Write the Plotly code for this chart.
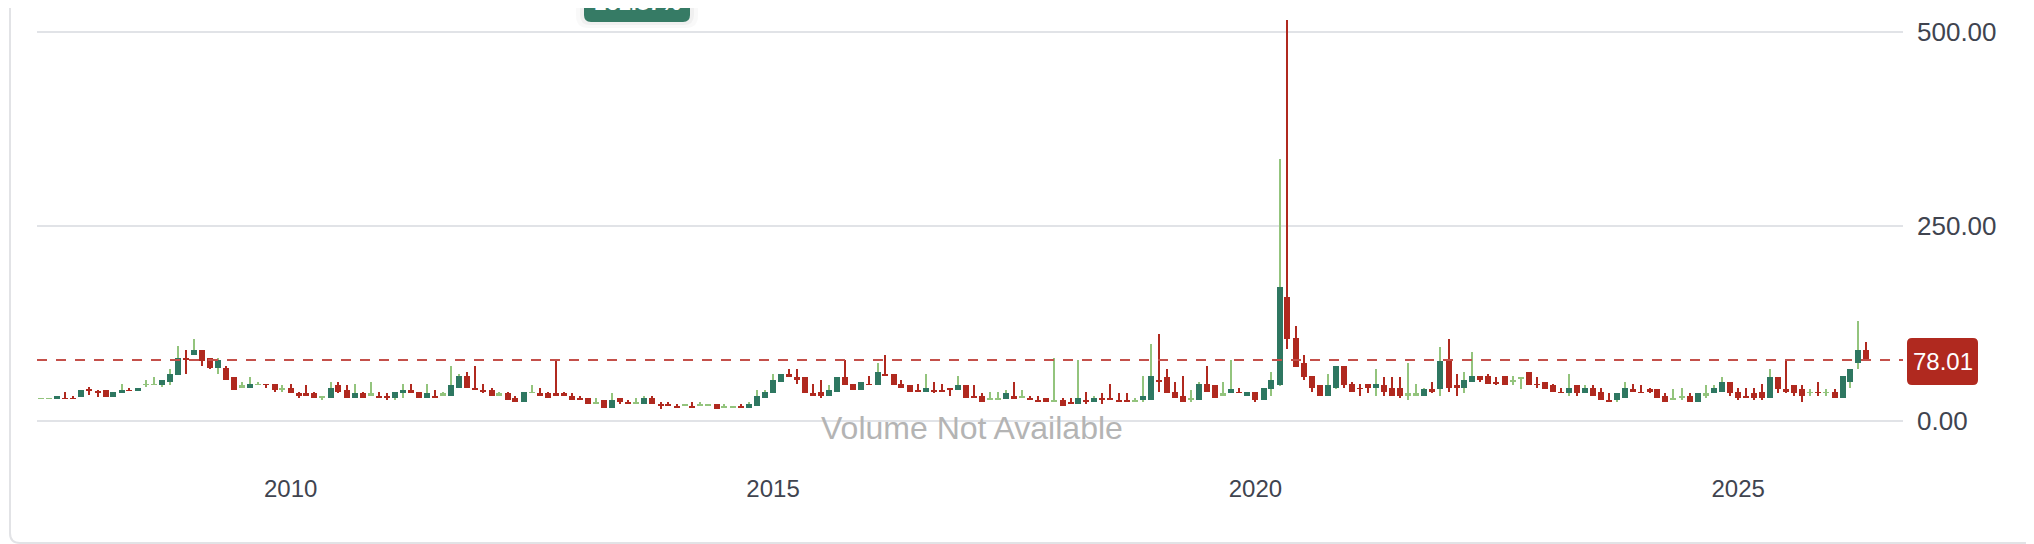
import plotly.graph_objects as go
import pandas as pd

# ---------------- data (monthly candles, Jun 2007 .. May 2026) ----------------
months = pd.date_range("2007-06-01", periods=228, freq="MS")

opens = [
    27.2, 27.2, 27.9, 29.6, 29.6, 30.0, 40.8, 38.2, 39.9, 30.5,
    35.6, 39.9, 37.8, 45.9, 45.9, 45.5, 50.2, 58.4, 81.1, 84.1,
    91.4, 81.1, 68.2, 68.2, 55.4, 42.5, 42.5, 45.1, 47.6, 47.6,
    39.9, 42.5, 34.8, 34.8, 34.8, 29.6, 29.6, 45.1, 39.9, 29.6,
    34.8, 32.2, 32.2, 32.2, 29.6, 34.8, 39.9, 37.3, 29.6, 32.2,
    32.2, 32.2, 42.5, 57.9, 42.5, 39.9, 39.9, 32.2, 34.8, 29.6,
    24.4, 34.8, 34.8, 34.8, 34.8, 34.8, 32.2, 29.6, 29.6, 21.9,
    27.0, 16.7, 29.6, 24.4, 21.9, 21.9, 29.6, 21.9, 21.9, 19.3,
    19.3, 19.3, 19.3, 19.3, 21.9, 16.7, 16.7, 19.3, 16.7, 19.3,
    29.6, 34.8, 50.2, 60.5, 55.4, 55.4, 34.8, 37.3, 32.2, 37.3,
    55.4, 47.6, 39.9, 47.6, 45.1, 60.5, 60.5, 47.6, 45.1, 39.9,
    37.3, 39.9, 39.9, 42.5, 39.9, 45.1, 32.2, 32.2, 27.0, 27.0,
    27.1, 32.2, 29.6, 29.6, 27.0, 29.6, 24.4, 27.0, 24.4, 21.9,
    27.0, 24.4, 29.6, 29.6, 27.0, 27.0, 24.4, 27.0, 27.0, 52.8,
    55.4, 37.3, 32.2, 27.0, 27.0, 47.6, 45.1, 32.2, 34.8, 37.3,
    32.2, 37.3, 27.0, 40.0, 45.5, 158.5, 106.5, 73.4, 57.9, 45.1,
    32.2, 42.5, 70.8, 47.6, 42.5, 47.6, 42.5, 45.1, 42.5, 42.5,
    32.2, 32.2, 32.2, 40.0, 40.0, 76.0, 45.1, 42.5, 50.2, 57.9,
    57.9, 50.2, 57.1, 50.2, 54.0, 63.1, 47.6, 50.2, 45.1, 37.3,
    34.8, 45.1, 34.8, 42.5, 37.3, 27.0, 27.0, 29.6, 40.0, 37.3,
    40.0, 40.0, 32.2, 27.0, 29.6, 32.2, 24.4, 32.2, 34.8, 37.3,
    50.2, 37.3, 32.2, 34.8, 37.3, 29.6, 55.4, 40.0, 45.1, 40.0,
    34.8, 37.3, 34.8, 37.3, 29.6, 50.2, 73.4, 91.4,
]
highs = [
    29.6, 29.6, 32.2, 37.3, 32.2, 39.9, 42.9, 39.9, 39.9, 37.3,
    47.6, 42.5, 42.5, 52.8, 55.4, 52.8, 65.7, 96.5, 91.4, 104.3,
    91.4, 81.1, 81.1, 70.8, 55.4, 50.2, 55.4, 50.2, 47.6, 47.6,
    45.1, 47.6, 37.3, 45.1, 37.3, 32.2, 50.2, 50.2, 45.1, 47.6,
    37.3, 50.2, 37.3, 34.8, 37.3, 47.6, 47.6, 37.3, 47.6, 39.9,
    37.3, 70.8, 60.5, 63.1, 70.8, 47.6, 42.5, 37.3, 37.3, 32.2,
    37.3, 45.1, 42.5, 37.3, 76.0, 37.3, 34.8, 32.2, 29.6, 29.6,
    27.0, 34.8, 29.6, 27.0, 29.6, 32.2, 32.2, 24.4, 24.4, 21.9,
    21.9, 24.4, 24.4, 21.9, 21.9, 21.9, 19.3, 21.9, 24.4, 39.9,
    39.9, 60.5, 60.5, 65.7, 65.7, 55.4, 47.6, 52.8, 45.1, 55.4,
    77.7, 47.6, 50.2, 57.9, 73.4, 83.7, 60.5, 52.8, 45.1, 47.6,
    60.5, 50.2, 47.6, 42.5, 57.9, 45.1, 45.1, 34.8, 37.3, 37.3,
    39.9, 50.2, 39.9, 32.2, 32.2, 29.6, 81.1, 29.6, 29.6, 78.5,
    37.3, 32.2, 34.8, 47.6, 34.8, 34.8, 29.6, 57.9, 99.1, 112.0,
    65.7, 50.2, 57.9, 39.9, 50.2, 70.8, 45.1, 50.2, 78.5, 42.5,
    37.3, 37.3, 42.5, 63.1, 336.0, 516.0, 122.0, 83.7, 57.9, 45.1,
    60.5, 70.8, 70.8, 50.2, 47.6, 47.6, 65.7, 55.4, 55.4, 55.4,
    73.4, 47.6, 42.5, 50.2, 94.0, 104.3, 60.5, 63.1, 88.8, 57.9,
    60.5, 55.4, 57.9, 57.9, 56.5, 63.1, 55.4, 50.2, 47.6, 42.5,
    60.5, 45.1, 45.1, 45.1, 42.5, 34.8, 34.8, 50.2, 47.6, 45.1,
    42.5, 40.0, 34.8, 40.0, 42.5, 34.8, 34.8, 45.1, 45.1, 55.4,
    50.2, 42.5, 42.5, 42.5, 47.6, 65.7, 55.4, 78.5, 45.1, 45.1,
    40.0, 50.2, 40.0, 40.0, 57.9, 65.7, 127.5, 101.7,
]
lows = [
    27.2, 27.2, 27.9, 27.9, 27.9, 30.0, 32.6, 30.5, 30.5, 30.5,
    35.6, 38.2, 37.8, 42.9, 45.9, 42.9, 45.5, 58.4, 60.5, 84.1,
    70.8, 65.7, 60.5, 52.8, 39.9, 42.5, 42.5, 45.1, 42.5, 37.3,
    37.3, 35.6, 29.6, 32.2, 29.6, 27.0, 29.6, 34.8, 29.6, 29.6,
    29.6, 32.2, 29.6, 27.0, 27.0, 29.6, 34.8, 29.6, 29.6, 29.6,
    32.2, 32.2, 42.5, 42.5, 39.9, 34.8, 32.2, 32.2, 27.0, 24.4,
    24.4, 34.8, 32.2, 29.6, 32.2, 32.2, 27.0, 27.0, 21.9, 21.9,
    16.7, 16.7, 21.9, 21.9, 21.9, 21.9, 21.9, 14.2, 19.3, 16.7,
    19.3, 16.7, 19.3, 19.3, 14.2, 16.7, 16.7, 16.7, 16.7, 19.3,
    29.6, 34.8, 50.2, 55.4, 47.6, 34.8, 32.2, 29.6, 32.2, 37.3,
    45.1, 39.9, 39.9, 45.1, 45.1, 57.9, 45.1, 42.5, 37.3, 37.3,
    37.3, 34.8, 37.3, 32.2, 39.9, 29.6, 29.6, 24.4, 27.0, 27.0,
    27.1, 27.1, 29.6, 27.0, 24.4, 24.4, 24.4, 19.3, 21.9, 21.9,
    21.9, 24.4, 21.9, 27.0, 24.4, 24.4, 24.4, 24.4, 27.0, 37.3,
    34.8, 29.6, 24.4, 24.4, 27.0, 37.3, 29.6, 32.2, 34.8, 34.8,
    32.2, 24.4, 27.0, 32.2, 45.0, 92.0, 68.5, 52.8, 37.3, 32.2,
    32.2, 40.0, 42.5, 37.3, 32.2, 34.8, 32.2, 32.2, 32.2, 29.6,
    27.0, 32.2, 32.2, 34.8, 32.2, 37.3, 32.2, 34.8, 50.2, 50.2,
    47.6, 45.1, 45.9, 45.1, 40.0, 45.1, 42.5, 40.0, 37.3, 34.8,
    32.2, 32.2, 34.8, 32.2, 27.0, 24.4, 24.4, 29.6, 37.3, 34.8,
    34.8, 29.6, 24.4, 27.0, 27.0, 24.4, 24.4, 29.6, 34.8, 37.3,
    32.2, 27.0, 29.6, 27.0, 27.0, 29.6, 34.8, 34.8, 32.2, 24.4,
    32.2, 32.2, 32.2, 29.6, 29.6, 42.5, 65.7, 78.01,
]
closes = [
    29.6, 29.6, 32.2, 27.9, 27.9, 39.9, 37.8, 35.6, 30.5, 37.3,
    39.9, 38.2, 42.5, 47.6, 47.6, 52.8, 60.5, 81.1, 78.5, 91.4,
    77.2, 68.2, 78.5, 52.8, 39.9, 45.1, 47.6, 47.6, 45.1, 39.9,
    42.5, 35.6, 32.2, 32.2, 29.6, 32.2, 42.5, 37.3, 29.6, 34.8,
    29.6, 34.8, 29.6, 29.6, 37.3, 39.9, 34.8, 29.6, 34.8, 29.6,
    34.8, 45.1, 57.9, 42.5, 39.9, 37.3, 32.2, 34.8, 27.0, 24.4,
    37.3, 37.3, 32.2, 29.6, 32.2, 32.2, 27.0, 27.0, 21.9, 24.4,
    16.7, 27.0, 24.4, 21.9, 24.4, 29.6, 21.9, 19.3, 19.3, 16.7,
    21.9, 16.7, 21.9, 21.9, 14.2, 19.3, 19.3, 16.7, 21.9, 32.2,
    37.3, 52.8, 60.5, 55.4, 52.8, 34.8, 32.2, 32.2, 39.9, 55.4,
    45.1, 39.9, 50.2, 45.1, 63.1, 57.9, 45.1, 42.5, 37.3, 37.3,
    42.5, 37.3, 37.3, 39.9, 45.1, 29.6, 29.6, 24.4, 29.6, 29.6,
    34.8, 27.1, 32.2, 27.0, 24.4, 24.4, 27.0, 19.3, 21.9, 29.6,
    24.4, 29.6, 27.0, 27.0, 24.4, 24.4, 27.0, 32.2, 57.9, 50.2,
    34.8, 29.6, 24.4, 29.6, 47.6, 37.3, 29.6, 34.8, 40.0, 34.8,
    37.3, 27.0, 42.5, 52.8, 171.5, 104.3, 68.5, 55.4, 42.5, 32.2,
    45.1, 70.8, 45.1, 37.3, 40.0, 42.5, 47.6, 37.3, 32.2, 32.2,
    34.8, 34.8, 40.0, 37.3, 76.0, 42.5, 42.5, 52.8, 57.9, 52.8,
    47.6, 47.6, 45.9, 52.8, 56.5, 45.1, 45.1, 40.0, 37.3, 34.8,
    42.5, 34.8, 42.5, 32.2, 27.0, 24.4, 34.8, 42.5, 37.3, 34.8,
    37.3, 29.6, 24.4, 29.6, 32.2, 24.4, 34.8, 34.8, 42.5, 50.2,
    34.8, 29.6, 29.6, 29.6, 29.6, 55.4, 40.0, 37.3, 34.8, 32.2,
    37.3, 34.8, 37.3, 29.6, 57.9, 65.7, 91.4, 78.01,
]

year_ticks = ["2010-01-01", "2015-01-01", "2020-01-01", "2025-01-01"]
year_labels = ["2010", "2015", "2020", "2025"]
price_ticks = [0, 250, 500]
price_labels = ["0.00", "250.00", "500.00"]
badge_text = "161.87%"
volume_note = "Volume Not Available"

# ---------------- layout geometry ----------------
W, H = 2034, 544
ML, MR, MT, MB = 29, 139, 0, 92
PW = W - ML - MR
PH = H - MT - MB
X_RANGE = ["2007-05-17", "2026-09-17"]
Y_RANGE = [-50.8, 530.9]


def pxx(px):
    return (px - ML) / PW


def pxy(py):
    return (MT + PH - py) / PH


def rrect(x0, y0, x1, y1, r):
    return (f"M {pxx(x0 + r)},{pxy(y0)} L {pxx(x1 - r)},{pxy(y0)} "
            f"Q {pxx(x1)},{pxy(y0)} {pxx(x1)},{pxy(y0 + r)} "
            f"L {pxx(x1)},{pxy(y1 - r)} Q {pxx(x1)},{pxy(y1)} {pxx(x1 - r)},{pxy(y1)} "
            f"L {pxx(x0 + r)},{pxy(y1)} Q {pxx(x0)},{pxy(y1)} {pxx(x0)},{pxy(y1 - r)} "
            f"L {pxx(x0)},{pxy(y0 + r)} Q {pxx(x0)},{pxy(y0)} {pxx(x0 + r)},{pxy(y0)} Z")


UP_DARK = "#2e7761"
UP_LIGHT = "#93c47d"
DOWN = "#b0291f"
TEXT = "#40444f"
FONT = "Liberation Sans, Arial, sans-serif"

span_ms = (pd.Timestamp(X_RANGE[1]) - pd.Timestamp(X_RANGE[0])).total_seconds() * 1000
ms_per_px = span_ms / PW
body_w = 6 * ms_per_px
wick_w = 2 * ms_per_px

is_up = [c >= o for o, c in zip(opens, closes)]
body_base = [min(o, c) for o, c in zip(opens, closes)]
body_h = [abs(c - o) for o, c in zip(opens, closes)]
body_col = [(UP_DARK if (c - o) >= 3 else UP_LIGHT) if u else DOWN
            for o, c, u in zip(opens, closes, is_up)]
wick_col = [UP_LIGHT if u else DOWN for u in is_up]
wick_h = [h - l for h, l in zip(highs, lows)]

fig = go.Figure()
fig.add_trace(go.Bar(x=months, y=wick_h, base=lows, width=[wick_w] * len(months),
                     marker=dict(color=wick_col, line=dict(width=0)),
                     hoverinfo="skip", showlegend=False))
fig.add_trace(go.Bar(x=months, y=body_h, base=body_base, width=[body_w] * len(months),
                     marker=dict(color=body_col, line=dict(width=0)),
                     hoverinfo="skip", showlegend=False))

last_price = closes[-1]
# pixel row of the last price (for its label box)
k = PH / (Y_RANGE[1] - Y_RANGE[0])
last_py = MT + (Y_RANGE[1] - last_price) * k

shapes = [
    # outer card frame
    dict(type="path", xref="paper", yref="paper", path=rrect(2, -30, 2031, 535, 10),
         line=dict(color="#e2e3e6", width=2), fillcolor="rgba(0,0,0,0)", layer="below"),
    # last price dashed line
    dict(type="line", xref="paper", yref="y", x0=0, x1=1, y0=last_price, y1=last_price,
         line=dict(color="#c4504a", width=2, dash="10px,9px"), layer="above"),
    # last price box
    dict(type="path", xref="paper", yref="paper",
         path=rrect(1899, last_py - 22, 1970, last_py + 25, 5),
         line=dict(width=0), fillcolor=DOWN, layer="above"),
    # badge shadow
    dict(type="path", xref="paper", yref="paper", path=rrect(568, -30, 690, 20, 12),
         line=dict(width=0), fillcolor="rgba(0,0,0,0.025)", layer="above"),
    dict(type="path", xref="paper", yref="paper", path=rrect(572, -30, 686, 17, 10),
         line=dict(width=0), fillcolor="rgba(0,0,0,0.035)", layer="above"),
    # badge
    dict(type="path", xref="paper", yref="paper", path=rrect(576, -30, 682, 14, 7),
         line=dict(width=0), fillcolor="#367b65", layer="above"),
]

annotations = [
    dict(xref="paper", yref="paper", x=pxx(1934.5), y=pxy(last_py + 1.5), text=f"{last_price:.2f}",
         showarrow=False, font=dict(family=FONT, size=24, color="white"),
         xanchor="center", yanchor="middle"),
    dict(xref="paper", yref="paper", x=pxx(629), y=pxy(-5), text=f"<b>{badge_text}</b>",
         showarrow=False, font=dict(family=FONT, size=22, color="white"),
         xanchor="center", yanchor="middle"),
    dict(xref="paper", yref="paper", x=pxx(964), y=pxy(420), text=volume_note,
         showarrow=False, font=dict(family=FONT, size=32, color="#b4b4b4"),
         xanchor="center", yanchor="middle"),
]

fig.update_layout(
    width=W, height=H,
    margin=dict(l=ML, r=MR, t=MT, b=MB, pad=0),
    paper_bgcolor="white", plot_bgcolor="white",
    barmode="overlay", bargap=0,
    showlegend=False, hovermode=False,
    font=dict(family=FONT, color=TEXT, size=24),
    shapes=shapes, annotations=annotations,
    xaxis=dict(type="date", range=X_RANGE, tickvals=year_ticks, ticktext=year_labels,
               showgrid=False, zeroline=False, showline=False, ticks="",
               ticklabelstandoff=12, tickfont=dict(size=24, color=TEXT), fixedrange=True),
    yaxis=dict(side="right", range=Y_RANGE, tickvals=price_ticks, ticktext=price_labels,
               showgrid=True, gridcolor="#e1e3e7", gridwidth=2, zeroline=False,
               showline=False, ticks="", ticklabelstandoff=13,
               tickfont=dict(size=26, color=TEXT), fixedrange=True),
)

fig.write_html("out.html", config={"displayModeBar": False, "staticPlot": True})
